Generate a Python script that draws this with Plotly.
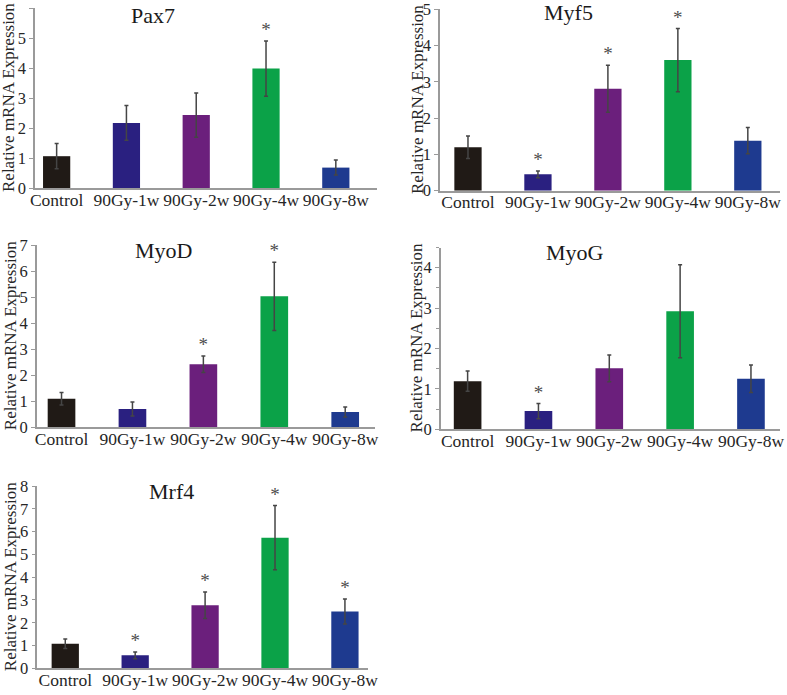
import plotly.graph_objects as go

categories = ["Control", "90Gy-1w", "90Gy-2w", "90Gy-4w", "90Gy-8w"]
bar_colors = ["#201a16", "#2a2080", "#6b1f7c", "#0ba248", "#1e3a8f"]

genes = ["Pax7", "Myf5", "MyoD", "MyoG", "Mrf4"]

pax7 = [1.06, 2.17, 2.43, 3.98, 0.68]
pax7_err = [0.42, 0.58, 0.74, 0.92, 0.25]
pax7_sig = [0, 0, 0, 1, 0]

myf5 = [1.20, 0.45, 2.81, 3.60, 1.38]
myf5_err = [0.31, 0.09, 0.65, 0.87, 0.36]
myf5_sig = [0, 1, 1, 1, 0]

myod = [1.10, 0.70, 2.42, 5.03, 0.59]
myod_err = [0.24, 0.27, 0.32, 1.31, 0.19]
myod_sig = [0, 0, 1, 1, 0]

myog = [1.19, 0.45, 1.51, 2.92, 1.25]
myog_err = [0.25, 0.19, 0.33, 1.15, 0.34]
myog_sig = [0, 1, 0, 0, 0]

mrf4 = [1.08, 0.57, 2.77, 5.73, 2.49]
mrf4_err = [0.21, 0.15, 0.58, 1.41, 0.55]
mrf4_sig = [0, 1, 1, 1, 1]

values = [pax7, myf5, myod, myog, mrf4]
errors = [pax7_err, myf5_err, myod_err, myog_err, mrf4_err]
sigs = [pax7_sig, myf5_sig, myod_sig, myog_sig, mrf4_sig]

y_ranges = [[0, 6], [0, 5], [0, 7], [0, 4.5], [0, 8]]
x_ranges = [[-0.31, 4.59], [-0.40, 4.46], [-0.35, 4.42], [-0.38, 4.41], [-0.40, 4.33]]

W, H = 787, 695
# pixel boxes: (x_left, x_right, y_top, y_bottom)
boxes = [(35, 377, 8, 188), (440, 780, 9.3, 190.7), (36.7, 375, 245, 427.3),
         (440.7, 780, 247.5, 429.3), (37.3, 368, 486, 668.3)]
title_pos = [(153, 16), (568, 13), (163, 250), (575, 252), (171, 491)]
ytitle_x = [9, 417, 10, 416, 10]

font_family = "Liberation Serif, Times New Roman, serif"
fig = go.Figure()
annotations = []
layout = {}

for k in range(5):
    xa = "x" if k == 0 else f"x{k+1}"
    ya = "y" if k == 0 else f"y{k+1}"
    fig.add_trace(go.Bar(
        x=categories, y=values[k], xaxis=xa, yaxis=ya,
        marker=dict(color=bar_colors, line=dict(width=0)),
        width=0.39,
        error_y=dict(type="data", array=errors[k], visible=True,
                     color="#454545", thickness=1.5, width=2),
        showlegend=False, hoverinfo="x+y",
    ))
    # significance asterisks as text markers above the error bars
    sx = [categories[i] for i, s in enumerate(sigs[k]) if s]
    sy = [values[k][i] + errors[k][i] for i, s in enumerate(sigs[k]) if s]
    fig.add_trace(go.Scatter(
        x=sx, y=sy, xaxis=xa, yaxis=ya, mode="text", text=["*"] * len(sx),
        textposition="top center",
        textfont=dict(family=font_family, size=19, color="#4d4d4d"),
        showlegend=False, hoverinfo="skip", cliponaxis=False,
    ))
    xl, xr, yt, yb = boxes[k]
    dom_x = [xl / W, xr / W]
    dom_y = [1 - yb / H, 1 - yt / H]
    layout["xaxis" if k == 0 else f"xaxis{k+1}"] = dict(
        domain=dom_x, anchor=ya, range=x_ranges[k], type="category",
        showline=True, linecolor="#9a9a9a", linewidth=1.5,
        ticks="", ticklen=0, ticklabelstandoff=-5,
        showgrid=False, zeroline=False, automargin=False,
        tickfont=dict(family=font_family, size=17.5, color="#262626"),
    )
    yax = dict(
        domain=dom_y, anchor=xa, range=y_ranges[k],
        showline=True, linecolor="#9a9a9a", linewidth=1.5,
        ticks="outside", ticklen=4, tickcolor="#9a9a9a", tickwidth=1,
        dtick=1, showgrid=False, zeroline=False, automargin=False,
        tickfont=dict(family=font_family, size=16.5, color="#262626"),
    )
    if k == 3:
        yax["minor"] = dict(dtick=0.5, ticks="outside", ticklen=3, tickcolor="#9a9a9a")
    layout["yaxis" if k == 0 else f"yaxis{k+1}"] = yax

    # gene title
    tx, ty = title_pos[k]
    annotations.append(dict(text=genes[k], x=tx / W, y=1 - ty / H, xref="paper", yref="paper",
                            xanchor="center", yanchor="middle", showarrow=False,
                            font=dict(family=font_family, size=22, color="#1a1a1a")))
    # y axis title
    annotations.append(dict(text="Relative mRNA Expression", x=ytitle_x[k] / W,
                            y=(dom_y[0] + dom_y[1]) / 2, xref="paper", yref="paper",
                            xanchor="center", yanchor="middle", textangle=-90, showarrow=False,
                            font=dict(family=font_family, size=17, color="#262626")))

fig.update_layout(
    width=W, height=H, margin=dict(l=0, r=0, t=0, b=0, autoexpand=False),
    paper_bgcolor="white", plot_bgcolor="white",
    annotations=annotations, bargap=0.6, **layout,
)

fig.write_html("out.html", config={"displayModeBar": False},
               post_script="document.body.style.margin='0px';")
